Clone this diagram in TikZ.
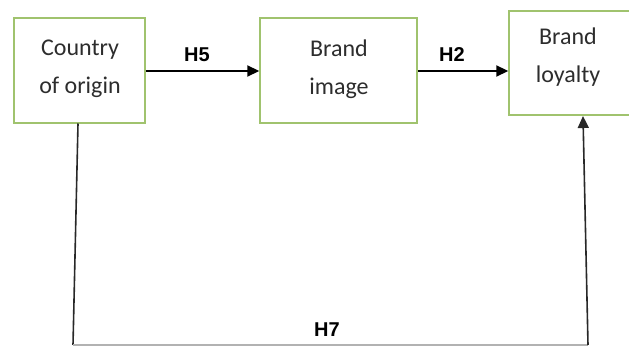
\documentclass[tikz,border=0pt]{standalone}
\usepackage{fontspec}
\setmainfont{Carlito}
\newfontfamily\lblfont{Liberation Sans}
\usetikzlibrary{arrows.meta}
\definecolor{boxgreen}{RGB}{160,195,110}
\definecolor{lineg}{RGB}{40,40,40}
\definecolor{txtc}{RGB}{45,45,45}
\begin{document}
\begin{tikzpicture}[x=1pt,y=-1pt,
  box/.style={draw=boxgreen, line width=1.5pt, fill=white, inner sep=0pt},
  txt/.style={align=center, text=txtc, font=\fontsize{24}{38}\selectfont, inner sep=0pt},
  hlab/.style={font=\lblfont\bfseries\fontsize{20}{22}\selectfont, inner sep=0pt},
  arr/.style={line width=2.2pt, draw=black, -{Triangle[length=12pt,width=11pt]}},
  conn/.style={line width=1.6pt, draw=lineg}]
\useasboundingbox (0,0) rectangle (629,347);
\node[box, minimum width=131pt, minimum height=105pt] (coo) at (79.5,70.5) {};
\node[box, minimum width=157pt, minimum height=105pt] (bi) at (338.5,70.5) {};
\node[box, minimum width=122pt, minimum height=104pt] (bl) at (570,63) {};
\node[txt] (coot) at (80,69) {Country\\of origin};
\node[txt] (bit) at (339,69) {Brand\\image};
\node[txt] (blt) at (568,57) {Brand\\loyalty};
\draw[arr] (coo.east |- 0,71) -- (bi.west |- 0,71);
\draw[arr] (bi.east |- 0,71) -- (bl.west |- 0,71);
\node[hlab] (h5) at (197,55) {H5};
\node[hlab] (h2) at (452,55) {H2};
\coordinate (bl1) at (73,345);
\coordinate (br1) at (588,345);
\coordinate (ctop) at (78,123.5);
\coordinate (btop) at (583,116);
\draw[conn] (ctop) -- (bl1);
\draw[draw=gray!60, line width=1.2pt] (bl1) -- (br1);
\draw[conn, -{Triangle[length=12pt,width=11pt]}] (br1) -- (btop);
\node[hlab] (h7) at (327,330) {H7};
\end{tikzpicture}
\end{document}
